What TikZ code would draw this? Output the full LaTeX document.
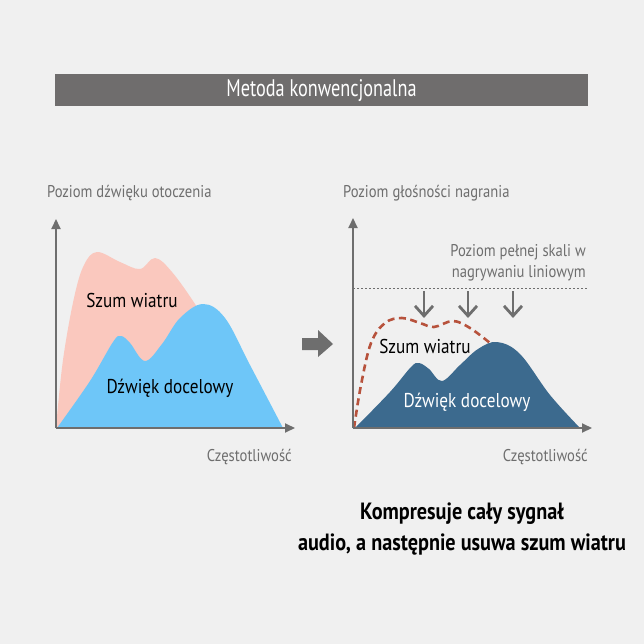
\documentclass[tikz,border=0pt]{standalone}
\usepackage{fontspec}
\setmainfont{PT Sans}[FakeStretch=0.86]
\newfontfamily\titlefont{PT Sans}[FakeStretch=0.76]
\usepackage{xcolor}
\usepackage{tikz}
\usetikzlibrary{arrows.meta, positioning, calc}
\definecolor{bggray}{RGB}{240,240,240}
\definecolor{bargray}{RGB}{111,109,109}
\definecolor{axisgray}{RGB}{110,110,110}
\definecolor{noisepink}{RGB}{250,200,190}
\definecolor{targetblue}{RGB}{110,198,248}
\definecolor{darkblue}{RGB}{60,106,142}
\definecolor{noisered}{RGB}{183,82,60}

\begin{document}
\begin{tikzpicture}[x=1pt, y=-1pt,
  axis/.style={line width=2pt, draw=axisgray, -{Triangle[length=10pt, width=9pt]}},
  axlbl/.style={font=\fontsize{17}{20.5}\selectfont, text=axisgray, inner sep=0pt},
  curvelbl/.style={font=\fontsize{20}{24}\selectfont, inner sep=0pt},
  downarr/.style={line width=2.8pt, draw=axisgray, -{Straight Barb[length=10pt, width=18pt]}},
  limitline/.style={line width=1pt, draw=axisgray, dash pattern=on 2pt off 2pt},
]
\fill[bggray] (0,0) rectangle (644,644);
\useasboundingbox (0,0) rectangle (644,644);

% title bar
\node[fill=bargray, minimum width=533pt, minimum height=32pt, inner sep=0pt,
      text=white, font=\titlefont\fontsize{24}{28}\selectfont] (title) at (321.5,90.5)
  {Metoda konwencjonalna};

% left chart
\coordinate (lorig) at (56,428);
\coordinate (ltop) at (56,219);
\coordinate (lright) at (295,428);
\fill[noisepink] plot[smooth, tension=0.6] coordinates {(56,428) (63,360) (74,298)
  (84,265) (97,252) (120,262) (140,269) (155,258) (172,272) (197,307) (230,360) (270,428)} -- cycle;
\fill[targetblue] plot[smooth, tension=0.6] coordinates {(57,428) (90,381) (113,342)
  (121,336) (130,343) (145,361) (162,344) (180,318) (203,304) (225,318) (250,365) (283,428)} -- cycle;
\draw[axis] (lorig) -- (ltop);
\draw[axis] (lorig) -- (lright);
\node[axlbl, anchor=base west] (lylbl) at (47,197) {Poziom dźwięku otoczenia};
\node[axlbl, anchor=base east] (lxlbl) at (292,461) {Częstotliwość};
\node[curvelbl, anchor=base] (lnoise) at (132,307) {Szum wiatru};
\node[curvelbl, anchor=base] (ltarget) at (170,393) {Dźwięk docelowy};

% middle arrow
\fill[axisgray] (302,338) -- (318,338) -- (318,330) -- (333,344) -- (318,357)
  -- (318,350) -- (302,350) -- cycle;

% right chart
\coordinate (rorig) at (353,428);
\coordinate (rtop) at (353,218);
\coordinate (rright) at (592,428);
\coordinate (lvlend) at (587,288);
\fill[darkblue] plot[smooth, tension=0.6] coordinates {(355,428) (390,392) (411,367)
  (419,363) (429,369) (442,381) (460,365) (478,349) (497,342) (520,354) (550,395) (580,428)} -- cycle;
\draw[noisered, line width=2.6pt, dash pattern=on 7pt off 4.5pt]
  plot[smooth, tension=0.6] coordinates {(354,428) (361,385) (371,343) (385,323)
  (402,318) (420,323) (434,327) (453,321) (470,328) (490,343)};
\draw[axis] (rorig) -- (rtop);
\draw[axis] (rorig) -- (rright);
\draw[limitline] (rtop |- lvlend) -- (lvlend);
\foreach \x in {424,468,513}
  \draw[downarr] (\x,291) -- (\x,318);
\node[axlbl, anchor=base east, align=right] (limit) at (586,277)
  {Poziom pełnej skali w\\nagrywaniu liniowym};
\node[axlbl, anchor=base west] (rylbl) at (343,198) {Poziom głośności nagrania};
\node[axlbl, anchor=base east] (rxlbl) at (588,461) {Częstotliwość};
\node[curvelbl, anchor=base] (rnoise) at (425,353) {Szum wiatru};
\node[curvelbl, anchor=base, text=white] (rtarget) at (467,407) {Dźwięk docelowy};

% caption
\node[font=\fontsize{23.5}{31}\selectfont\bfseries, align=center, anchor=base]
  (caption) at (462,550) {Kompresuje cały sygnał\\audio, a następnie usuwa szum wiatru};
\end{tikzpicture}
\end{document}
